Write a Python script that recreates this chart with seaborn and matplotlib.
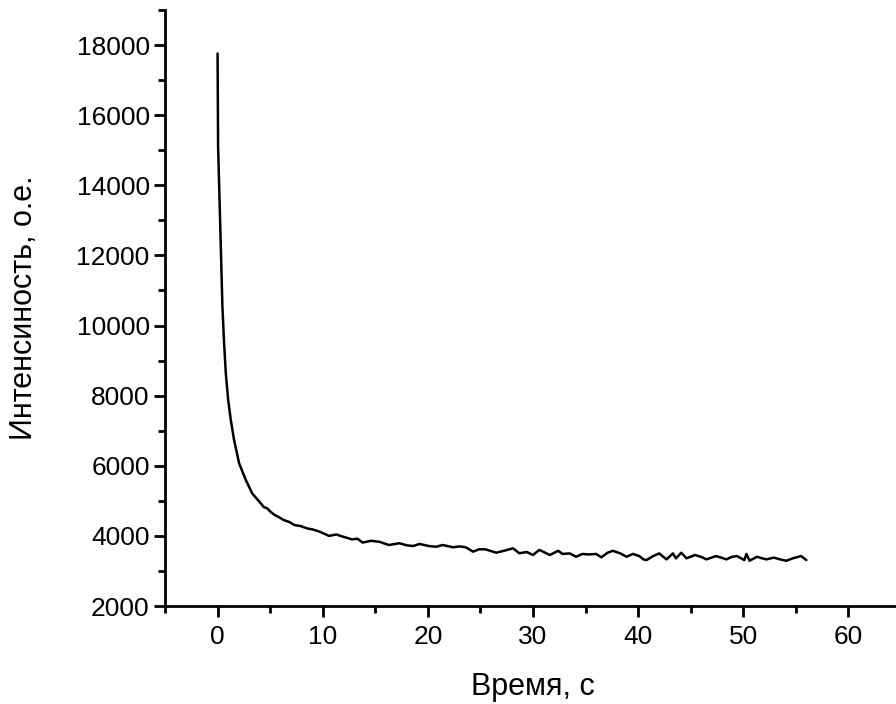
import matplotlib
matplotlib.use("Agg")
import matplotlib.pyplot as plt
from matplotlib.ticker import MultipleLocator
import pandas as pd
import seaborn as sns

# time (s) and intensity (a.u.)
time_s = [0.0, 0.05, 0.24, 0.46, 0.62, 0.78, 1.0, 1.26, 1.57, 2.05, 2.69, 3.3,
          4.1, 4.4, 4.7, 5.0, 5.4, 5.8, 6.3, 6.8, 7.3, 7.9, 8.5, 9.1, 9.7,
          10.6, 11.3, 11.9, 12.8, 13.3, 13.8, 14.6, 15.4, 16.3, 17.3, 18.0,
          18.6, 19.2, 20.1, 20.8, 21.4, 22.4, 23.0, 23.6, 24.3, 24.9, 25.5,
          26.5, 27.3, 28.1, 28.7, 29.4, 30.0, 30.6, 31.6, 32.4, 32.8, 33.5,
          34.1, 34.7, 35.3, 36.0, 36.5, 37.1, 37.6, 38.3, 38.9, 39.5, 40.1,
          40.5, 40.8, 41.4, 42.0, 42.7, 43.3, 43.6, 44.1, 44.6, 45.4, 46.0,
          46.5, 47.4, 47.9, 48.4, 48.9, 49.4, 50.1, 50.3, 50.6, 51.3, 51.8,
          52.2, 52.9, 53.5, 54.1, 54.7, 55.5, 56.0]
intensity = [17760, 15100, 13010, 10540, 9500, 8650, 7900, 7300, 6735, 6070,
             5590, 5210, 4930, 4820, 4790, 4700, 4600, 4540, 4450, 4400, 4310,
             4280, 4215, 4180, 4120, 4000, 4040, 3980, 3900, 3920, 3810, 3860,
             3830, 3740, 3790, 3730, 3710, 3770, 3710, 3690, 3740, 3675, 3700,
             3675, 3550, 3620, 3615, 3520, 3580, 3645, 3505, 3540, 3455, 3600,
             3455, 3575, 3485, 3500, 3405, 3485, 3470, 3485, 3390, 3520, 3575,
             3500, 3405, 3485, 3425, 3330, 3310, 3420, 3500, 3330, 3500, 3360,
             3520, 3360, 3455, 3400, 3330, 3425, 3380, 3330, 3400, 3425, 3310,
             3485, 3290, 3405, 3360, 3330, 3380, 3330, 3290, 3360, 3425, 3310]

df = pd.DataFrame({"t": time_s, "I": intensity})

sns.set_style("ticks")
plt.rcParams["font.family"] = ["Liberation Sans", "DejaVu Sans"]
plt.rcParams["text.color"] = "black"
plt.rcParams["axes.labelcolor"] = "black"
plt.rcParams["xtick.color"] = "black"
plt.rcParams["ytick.color"] = "black"
plt.rcParams["axes.edgecolor"] = "black"

fig = plt.figure(figsize=(8.96, 7.04), dpi=100)
ax = fig.add_axes([165 / 896, 98 / 704, 736 / 896, 596 / 704])

sns.lineplot(data=df, x="t", y="I", color="black", linewidth=1.8, ax=ax)

ax.set_xlim(-5, 65)
ax.set_ylim(2000, 19000)
ax.xaxis.set_major_locator(MultipleLocator(10))
ax.xaxis.set_minor_locator(MultipleLocator(5))
ax.yaxis.set_major_locator(MultipleLocator(2000))
ax.yaxis.set_minor_locator(MultipleLocator(1000))

for side in ["top", "right"]:
    ax.spines[side].set_visible(False)
for side in ["left", "bottom"]:
    ax.spines[side].set_linewidth(2)

ax.tick_params(which="major", direction="out", length=8, width=2, labelsize=19)
ax.tick_params(axis="y", which="major", pad=3)
ax.tick_params(axis="x", which="major", pad=6)
ax.tick_params(which="minor", direction="out", length=5, width=2)

ax.set_xlabel("Время, с", fontsize=22, labelpad=16)
ax.set_ylabel("Интенсиность, о.е.", fontsize=22, labelpad=27)

fig.savefig("out.png", dpi=100)
